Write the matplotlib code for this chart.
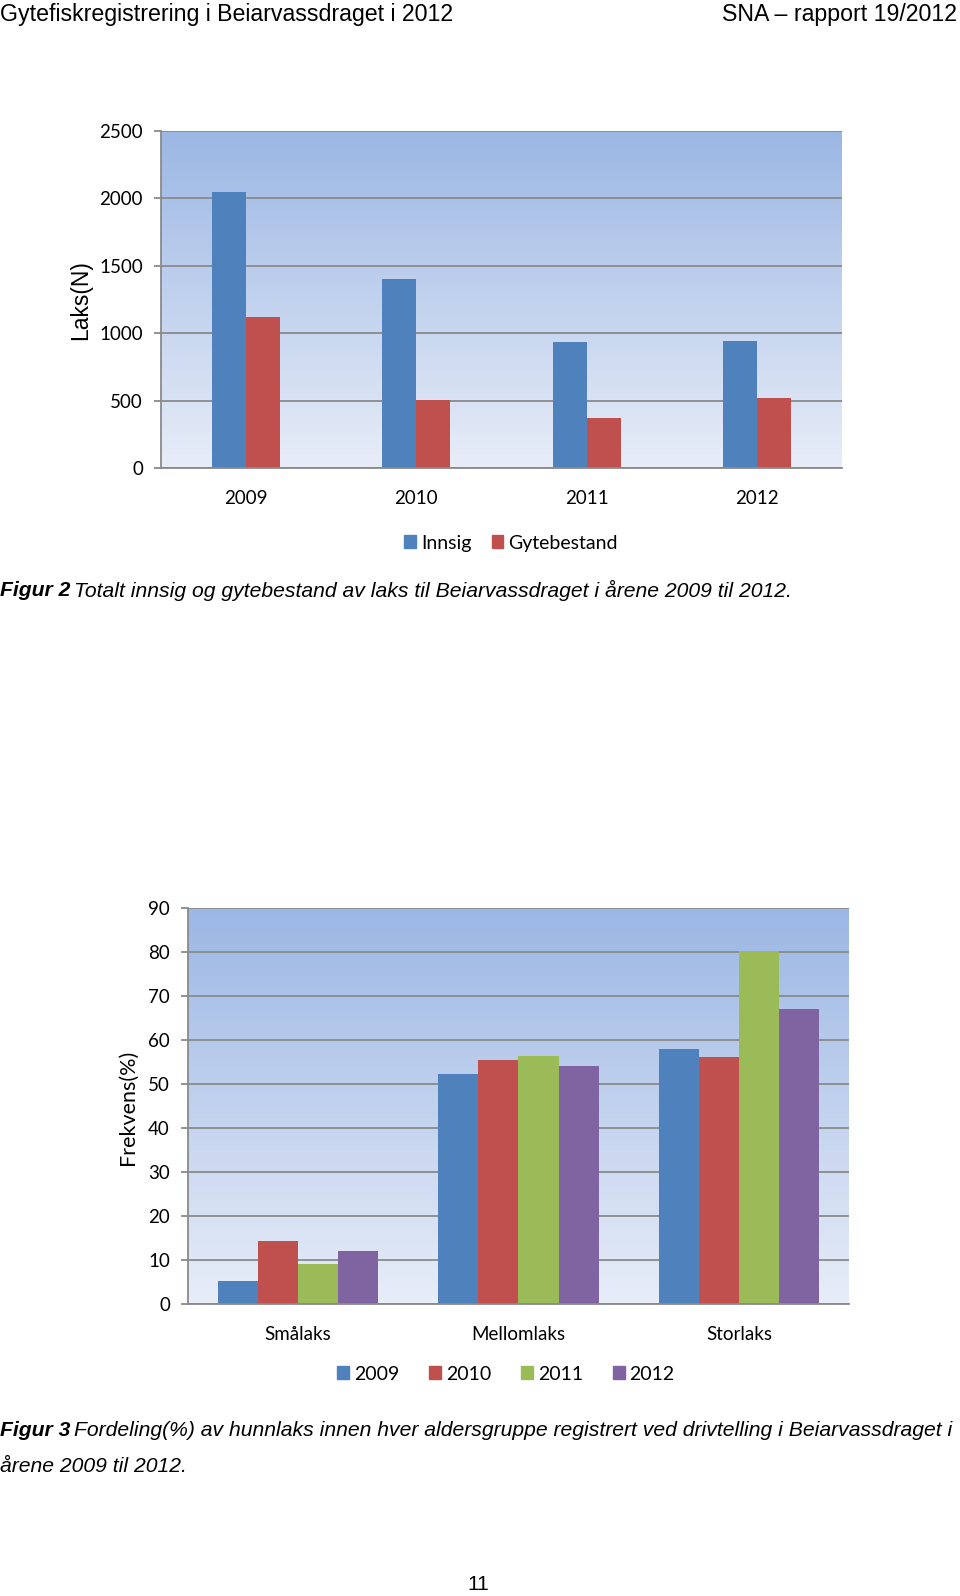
import matplotlib
matplotlib.use("Agg")
import matplotlib.pyplot as plt
import numpy as np
from matplotlib.patches import Patch

# figure 2 data
years = ["2009", "2010", "2011", "2012"]
innsig = [2045, 1401, 938, 945]
gytebestand = [1121, 507, 371, 522]

# figure 3 data
groups = ["Smålaks", "Mellomlaks", "Storlaks"]
freq_2009 = [5.3, 52.2, 58.0]
freq_2010 = [14.4, 55.5, 56.1]
freq_2011 = [9.2, 56.4, 80.2]
freq_2012 = [12.0, 54.0, 67.0]

W, H = 960, 1596
fig = plt.figure(figsize=(W / 100, H / 100), dpi=100)
fig.patch.set_facecolor("white")

blue, red, green, purple = "#4F81BD", "#C0504D", "#9BBB59", "#8064A2"
grid_col = "#8A8A8A"
calibri = "Lato"
arial = "Liberation Sans"


def px_axes(left, top, right, bottom):
    return fig.add_axes([left / W, 1 - bottom / H, (right - left) / W, (bottom - top) / H])


def style_axes(ax, ymax, step):
    # blue gradient background like Excel plot area
    grad = np.linspace(0, 1, 256).reshape(-1, 1)
    top_c = np.array([155, 183, 228]) / 255
    bot_c = np.array([232, 237, 248]) / 255
    img = top_c * (1 - grad[..., None]) + bot_c * grad[..., None]
    ax.imshow(img, extent=[0, 1, 0, 1], transform=ax.transAxes, aspect="auto", zorder=0)
    ax.set_ylim(0, ymax)
    ax.set_yticks(np.arange(0, ymax + 1, step))
    ax.yaxis.grid(True, color=grid_col, linewidth=1.3, zorder=1)
    ax.set_axisbelow(True)
    for s in ["top", "right"]:
        ax.spines[s].set_visible(False)
    for s in ["left", "bottom"]:
        ax.spines[s].set_color(grid_col)
        ax.spines[s].set_linewidth(1.3)
    ax.tick_params(axis="y", colors=grid_col, length=5, width=1.3, labelcolor="black",
                   labelsize=13.5, pad=8)
    ax.tick_params(axis="x", length=0, labelsize=13.5, pad=16)
    for lab in ax.get_yticklabels() + ax.get_xticklabels():
        lab.set_fontfamily(calibri)


def caption(y, bold, rest):
    t = fig.text(0, 1 - y / H, bold, family=arial, fontsize=15.2, va="center",
                 weight="bold", style="italic")
    fig.canvas.draw()
    bb = t.get_window_extent()
    fig.text((bb.x1 + 4) / W, 1 - y / H, rest, family=arial, fontsize=15.2,
             va="center", style="italic")


# header
fig.text(0, 1 - 14 / H, "Gytefiskregistrering i Beiarvassdraget i 2012", family=arial,
         fontsize=16.7, va="center", ha="left")
fig.text(957 / W, 1 - 14 / H, "SNA – rapport 19/2012", family=arial,
         fontsize=16.7, va="center", ha="right")

# ---- figure 2 ----
ax1 = px_axes(161, 131, 842, 468)
x = np.arange(len(years))
bw = 0.2
ax1.bar(x - bw / 2, innsig, bw, color=blue, zorder=2, label="Innsig")
ax1.bar(x + bw / 2, gytebestand, bw, color=red, zorder=2, label="Gytebestand")
ax1.set_xlim(-0.5, len(years) - 0.5)
ax1.set_xticks(x)
ax1.set_xticklabels(years)
style_axes(ax1, 2500, 500)
ax1.set_ylabel("Laks(N)", family=arial, fontsize=16.5)
ax1.yaxis.set_label_coords((92 - 161) / (842 - 161), (468 - 300) / (468 - 131))

fig.legend(handles=[Patch(color=blue, label="Innsig"), Patch(color=red, label="Gytebestand")],
           loc="center", bbox_to_anchor=(511 / W, 1 - 543 / H), ncol=2, frameon=False,
           prop={"family": calibri, "size": 14}, handlelength=0.6, handleheight=0.6,
           handletextpad=0.25, columnspacing=1.05)

caption(590, "Figur 2",
        "Totalt innsig og gytebestand av laks til Beiarvassdraget i årene 2009 til 2012.")

# ---- figure 3 ----
ax2 = px_axes(188, 908, 849, 1304)
g = np.arange(len(groups))
bw2 = 1 / 5.5
series = [(freq_2009, blue, "2009"), (freq_2010, red, "2010"),
          (freq_2011, green, "2011"), (freq_2012, purple, "2012")]
for i, (vals, col, lab) in enumerate(series):
    ax2.bar(g + (i - 1.5) * bw2, vals, bw2, color=col, zorder=2, label=lab)
ax2.set_xlim(-0.5, len(groups) - 0.5)
ax2.set_xticks(g)
ax2.set_xticklabels(groups)
style_axes(ax2, 90, 10)
ax2.set_ylabel("Frekvens(%)", family=calibri, fontsize=15.5)
ax2.yaxis.set_label_coords((138 - 188) / (849 - 188), (1304 - 1107) / (1304 - 908))

fig.legend(handles=[Patch(color=c, label=l) for _, c, l in series],
           loc="center", bbox_to_anchor=(506 / W, 1 - 1374 / H), ncol=4, frameon=False,
           prop={"family": calibri, "size": 14}, handlelength=0.6, handleheight=0.6,
           handletextpad=0.25, columnspacing=1.55)

caption(1430, "Figur 3",
        "Fordeling(%) av hunnlaks innen hver aldersgruppe registrert ved drivtelling i Beiarvassdraget i")
fig.text(0, 1 - 1466 / H, "årene 2009 til 2012.", family=arial, fontsize=15.2,
         va="center", style="italic")

fig.text(478 / W, 1 - 1585 / H, "11", family=arial, fontsize=15, ha="center", va="center")

fig.savefig("out.png", dpi=100)
